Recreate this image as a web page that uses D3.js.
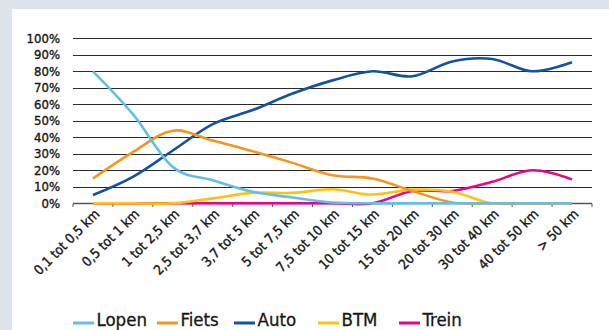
<!DOCTYPE html>
<html>
<head>
<meta charset="utf-8">
<script src="https://cdn.jsdelivr.net/npm/d3@7"></script>
<style>
  html, body { margin: 0; padding: 0; background: #dce3ea; }
  svg { display: block; }
</style>
</head>
<body>
<svg id="chart" width="609" height="330"></svg>
<script>
// Afstandsklassen (verplaatsingsafstand)
const categories = [
  "0,1 tot 0,5 km", "0,5 tot 1 km", "1 tot 2,5 km", "2,5 tot 3,7 km",
  "3,7 tot 5 km", "5 tot 7,5 km", "7,5 tot 10 km", "10 tot 15 km",
  "15 tot 20 km", "20 tot 30 km", "30 tot 40 km", "40 tot 50 km", "> 50 km"
];

// Aandeel per vervoerwijze (%)
const lopen = [80, 54, 22, 14, 7, 3.5, 0.5, 0, 0, 0, 0, 0, 0];
const fiets = [15, 31, 44, 38, 31.5, 24.5, 17, 15, 7.5, 0.5, 0, 0, 0];
const auto  = [5, 16, 32, 48, 56.5, 66.5, 74.5, 80, 77, 86, 87.5, 80, 85.5];
const btm   = [0, 0, 0, 3, 6.3, 6.3, 8.5, 5.3, 8.3, 7, 0, 0, 0];
const trein = [0, 0, 0, 0, 0, 0, 0, 0, 7.5, 7.5, 13, 20, 14.5];

const yTicks = [0, 10, 20, 30, 40, 50, 60, 70, 80, 90, 100];

const series = [
  { name: "Lopen", values: lopen, color: "#5fc1e8" },
  { name: "Fiets", values: fiets, color: "#f7941d" },
  { name: "Auto",  values: auto,  color: "#1053a3" },
  { name: "BTM",   values: btm,   color: "#ffc20e" },
  { name: "Trein", values: trein, color: "#ec008c" }
];

const svg = d3.select("#chart");
const W = 609, H = 330;

// white panel
svg.append("rect").attr("x", 12).attr("y", 9).attr("width", W - 12).attr("height", H - 9)
  .attr("fill", "#ffffff");

const plot = { left: 73, right: 592, top: 38.3, bottom: 203.3 };

const x = d3.scaleBand().domain(categories).range([plot.left, plot.right]).padding(0);
const xc = d => x(d) + x.bandwidth() / 2;
const y = d3.scaleLinear().domain([0, 100]).range([plot.bottom, plot.top]);

const axisFont = "'DejaVu Sans Condensed', 'Liberation Sans Narrow', sans-serif";
const ink = "#161616";

// horizontal gridlines
svg.append("g")
  .selectAll("line")
  .data(yTicks.filter(t => t > 0))
  .join("line")
  .attr("x1", plot.left).attr("x2", plot.right)
  .attr("y1", d => Math.round(y(d)) + 0.5).attr("y2", d => Math.round(y(d)) + 0.5)
  .attr("stroke", "#2a2a2a").attr("stroke-width", 1.2);

// y axis labels
const yAxis = d3.axisLeft(y).tickValues(yTicks).tickFormat(d => d + "%").tickSize(0).tickPadding(13);
const gy = svg.append("g").attr("transform", `translate(${plot.left},0)`).call(yAxis);
gy.select(".domain").remove();
gy.selectAll("text")
  .attr("font-family", axisFont).attr("font-size", 13).attr("fill", ink)
  .attr("stroke", ink).attr("stroke-width", 0.35);

// x axis with ticks on category boundaries
const xBase = Math.round(plot.bottom) + 0.5;
const gx = svg.append("g");
gx.append("line")
  .attr("x1", plot.left).attr("x2", plot.right)
  .attr("y1", xBase).attr("y2", xBase)
  .attr("stroke", "#555").attr("stroke-width", 1.3);
gx.selectAll("line.tick")
  .data(categories.map(c => x(c)).concat([plot.right]))
  .join("line").attr("class", "tick")
  .attr("x1", d => d).attr("x2", d => d)
  .attr("y1", xBase).attr("y2", xBase + 3.5)
  .attr("stroke", "#555").attr("stroke-width", 1);
gx.selectAll("text")
  .data(categories)
  .join("text")
  .attr("transform", d => `translate(${xc(d) + 4},${xBase + 8}) rotate(-45)`)
  .attr("text-anchor", "end")
  .attr("dy", "0.35em")
  .attr("font-family", axisFont).attr("font-size", 13.5).attr("fill", ink)
  .attr("stroke", ink).attr("stroke-width", 0.35)
  .text(d => d);

// smoothed lines
const line = d3.line()
  .x((d, i) => xc(categories[i]))
  .y(d => y(d))
  .curve(d3.curveCardinal.tension(0));

svg.append("g")
  .selectAll("path")
  .data(series.slice().reverse())
  .join("path")
  .attr("d", s => line(s.values))
  .attr("fill", "none")
  .attr("stroke", s => s.color)
  .attr("stroke-width", 2.6)
  .attr("stroke-linecap", "butt")
  .attr("stroke-linejoin", "round");

// legend
const legendX = [73, 157, 234, 318, 399];
const legend = svg.append("g");
series.forEach((s, i) => {
  const g = legend.append("g").attr("transform", `translate(${legendX[i]},0)`);
  g.append("line").attr("x1", 0).attr("x2", 21).attr("y1", 323).attr("y2", 323)
    .attr("stroke", s.color).attr("stroke-width", 3);
  g.append("text").attr("x", 23.5).attr("y", 325.5)
    .attr("font-family", "'Liberation Sans Narrow', 'DejaVu Sans Condensed', sans-serif")
    .attr("font-size", 18.5).attr("fill", ink)
    .attr("stroke", ink).attr("stroke-width", 0.3)
    .text(s.name);
});
</script>
</body>
</html>
